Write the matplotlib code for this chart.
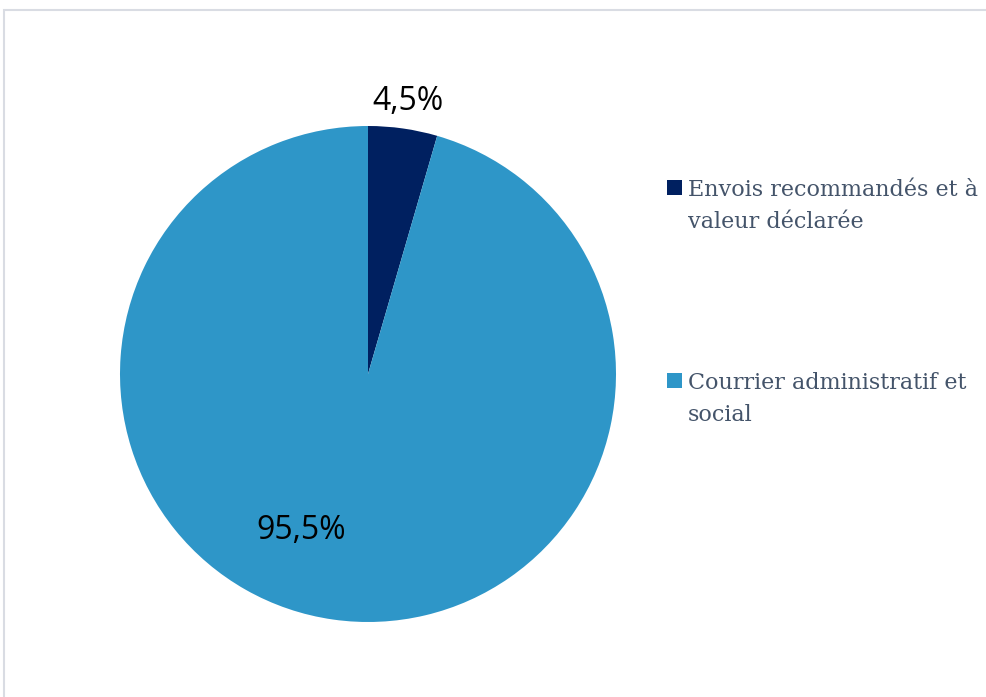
import matplotlib.pyplot as plt
from matplotlib.patches import Rectangle

categories = ['Envois recommandés et à\nvaleur déclarée', 'Courrier administratif et\nsocial']
shares = [4.5, 95.5]
share_labels = ['4,5%', '95,5%']
colors = ['#002060', '#2E96C8']

W, H = 987, 697
fig = plt.figure(figsize=(W / 100, H / 100), dpi=100)
fig.patch.set_facecolor('white')

# pie area: radius ~248 px around (368, 374)
ax = fig.add_axes([120 / W, 75 / H, 496 / W, 496 / H])
wedges, _ = ax.pie(shares, colors=colors, startangle=90, counterclock=False,
                   radius=1, wedgeprops=dict(linewidth=0))
ax.set_xlim(-1, 1)
ax.set_ylim(-1, 1)
ax.set_aspect('equal')
ax.axis('off')

# percentage labels
label_pos = [(0.16, 1.10), (-0.27, -0.63)]
for txt, (x, y) in zip(share_labels, label_pos):
    ax.text(x, y, txt, ha='center', va='center', fontsize=23,
            family='Open Sans', color='black')

# legend drawn by hand so the square sits on the first text line
leg_top = [180, 373]  # pixel rows from the top
for lab, c, top in zip(categories, colors, leg_top):
    fig.add_artist(Rectangle((667 / W, 1 - (top + 15) / H), 15 / W, 15 / H,
                             transform=fig.transFigure, facecolor=c,
                             edgecolor='none'))
    fig.text(688 / W, 1 - (top - 1) / H, lab, ha='left', va='top',
             fontsize=16, family='DejaVu Serif', color='#44546A',
             linespacing=1.6)

# chart border (only top and left edges visible)
fig.add_artist(Rectangle((4.5 / W, -0.1), 2, (H - 9.5) / H + 0.1,
                         transform=fig.transFigure, fill=False,
                         edgecolor='#D9DCE3', linewidth=1.5))

fig.savefig('out.png', dpi=100)
